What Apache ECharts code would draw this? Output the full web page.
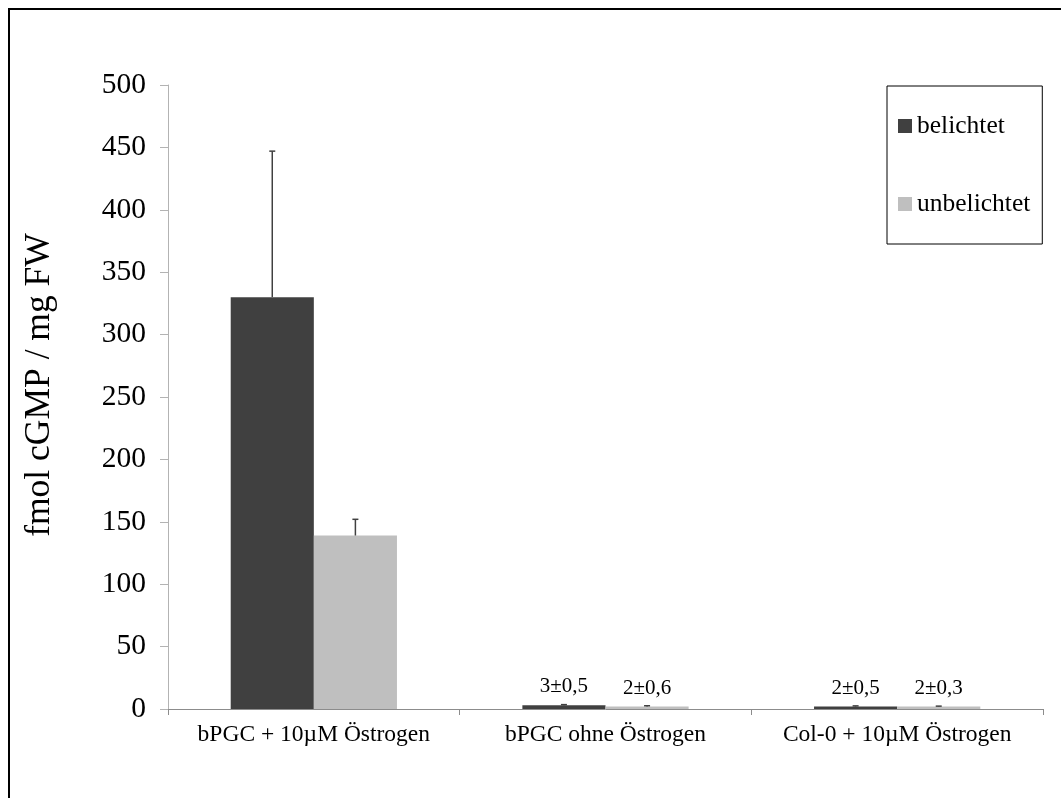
<!DOCTYPE html>
<html>
<head>
<meta charset="utf-8">
<style>
  html, body { margin: 0; padding: 0; background: #ffffff; }
  #chart { width: 1061px; height: 798px; }
</style>
<script src="https://cdn.jsdelivr.net/npm/echarts@6/dist/echarts.min.js"></script>
</head>
<body>
<div id="chart"></div>
<script>
// cGMP content per treatment, exposed vs. unexposed, with standard deviations
const categories = ['bPGC + 10\u00b5M \u00d6strogen', 'bPGC ohne \u00d6strogen', 'Col-0 + 10\u00b5M \u00d6strogen'];
const seriesNames = ['belichtet', 'unbelichtet'];
const belichtet = [330, 3, 2];
const belichtetErr = [117, 0.5, 0.5];
const unbelichtet = [139, 2, 2];
const unbelichtetErr = [13, 0.6, 0.3];
const showValueLabel = [false, true, true];
const yTicks = { min: 0, max: 500, interval: 50 };

const FONT = "'Liberation Serif', 'Times New Roman', serif";
const CATEGORY_GAP = 0.43;
const COLORS = ['#404040', '#bfbfbf'];

function labelText(values, errs) {
  return function (p) {
    const i = p.dataIndex;
    if (!showValueLabel[i]) return '';
    return values[i] + '\u00b1' + String(errs[i]).replace('.', ',');
  };
}

// Error whiskers (upper half only) centred on each bar of the pair
function errorRenderer(side) {
  return function (params, api) {
    const ci = api.value(0);
    const v = api.value(1);
    const e = api.value(2);
    const band = api.size([1, 0])[0];
    const bw = band * (1 - CATEGORY_GAP) / 2;
    const base = api.coord([ci, v]);
    const top = api.coord([ci, v + e]);
    const x = base[0] + side * bw / 2;
    const style = { stroke: '#404040', lineWidth: 1.5 };
    return {
      type: 'group',
      children: [
        { type: 'line', shape: { x1: x, y1: base[1], x2: x, y2: top[1] }, style: style },
        { type: 'line', shape: { x1: x - 3, y1: top[1], x2: x + 3, y2: top[1] }, style: style }
      ]
    };
  };
}

function errData(values, errs) {
  return values.map(function (v, i) { return [i, v, errs[i]]; });
}

const chart = echarts.init(document.getElementById('chart'), null, { renderer: 'canvas' });

chart.setOption({
  animation: false,
  backgroundColor: '#ffffff',
  textStyle: { fontFamily: FONT },
  graphic: [{
    type: 'rect',
    shape: { x: 9, y: 9, width: 1070, height: 810 },
    style: { fill: 'none', stroke: '#000000', lineWidth: 2 },
    silent: true
  }],
  grid: { left: 168, right: 18, top: 85, bottom: 89, containLabel: false },
  legend: {
    orient: 'vertical',
    left: 887,
    top: 86,
    data: seriesNames,
    icon: 'rect',
    itemWidth: 14,
    itemHeight: 14,
    itemGap: 52,
    padding: [27, 12, 27, 11],
    borderColor: '#000000',
    borderWidth: 1,
    textStyle: { fontFamily: FONT, fontSize: 25.5, color: '#000000' }
  },
  xAxis: {
    type: 'category',
    data: categories,
    axisLine: { lineStyle: { color: '#8c8c8c', width: 1 } },
    axisTick: { show: true, length: 6, lineStyle: { color: '#8c8c8c' } },
    axisLabel: { interval: 0, fontFamily: FONT, fontSize: 23.5, color: '#000000', margin: 14 },
    splitLine: { show: false }
  },
  yAxis: {
    type: 'value',
    min: yTicks.min,
    max: yTicks.max,
    interval: yTicks.interval,
    name: 'fmol cGMP / mg FW',
    nameLocation: 'middle',
    nameGap: 110,
    nameTextStyle: { fontFamily: FONT, fontSize: 35.5, color: '#000000', padding: [0, 0, 0, 24] },
    axisLine: { show: true, lineStyle: { color: '#b3b3b3', width: 1 } },
    axisTick: { show: true, length: 8, lineStyle: { color: '#b3b3b3' } },
    axisLabel: { fontFamily: FONT, fontSize: 29.5, color: '#000000', margin: 22 },
    splitLine: { show: false }
  },
  series: [
    {
      name: seriesNames[0],
      type: 'bar',
      data: belichtet,
      barGap: '0%',
      barCategoryGap: (CATEGORY_GAP * 100) + '%',
      itemStyle: { color: COLORS[0] },
      label: {
        show: true, position: 'top', distance: 8,
        fontFamily: FONT, fontSize: 21, color: '#000000',
        formatter: labelText(belichtet, belichtetErr)
      }
    },
    {
      name: seriesNames[1],
      type: 'bar',
      data: unbelichtet,
      barGap: '0%',
      barCategoryGap: (CATEGORY_GAP * 100) + '%',
      itemStyle: { color: COLORS[1] },
      label: {
        show: true, position: 'top', distance: 8,
        fontFamily: FONT, fontSize: 21, color: '#000000',
        formatter: labelText(unbelichtet, unbelichtetErr)
      }
    },
    {
      type: 'custom',
      renderItem: errorRenderer(-1),
      data: errData(belichtet, belichtetErr),
      z: 10,
      silent: true
    },
    {
      type: 'custom',
      renderItem: errorRenderer(1),
      data: errData(unbelichtet, unbelichtetErr),
      z: 10,
      silent: true
    }
  ]
});
</script>
</body>
</html>
